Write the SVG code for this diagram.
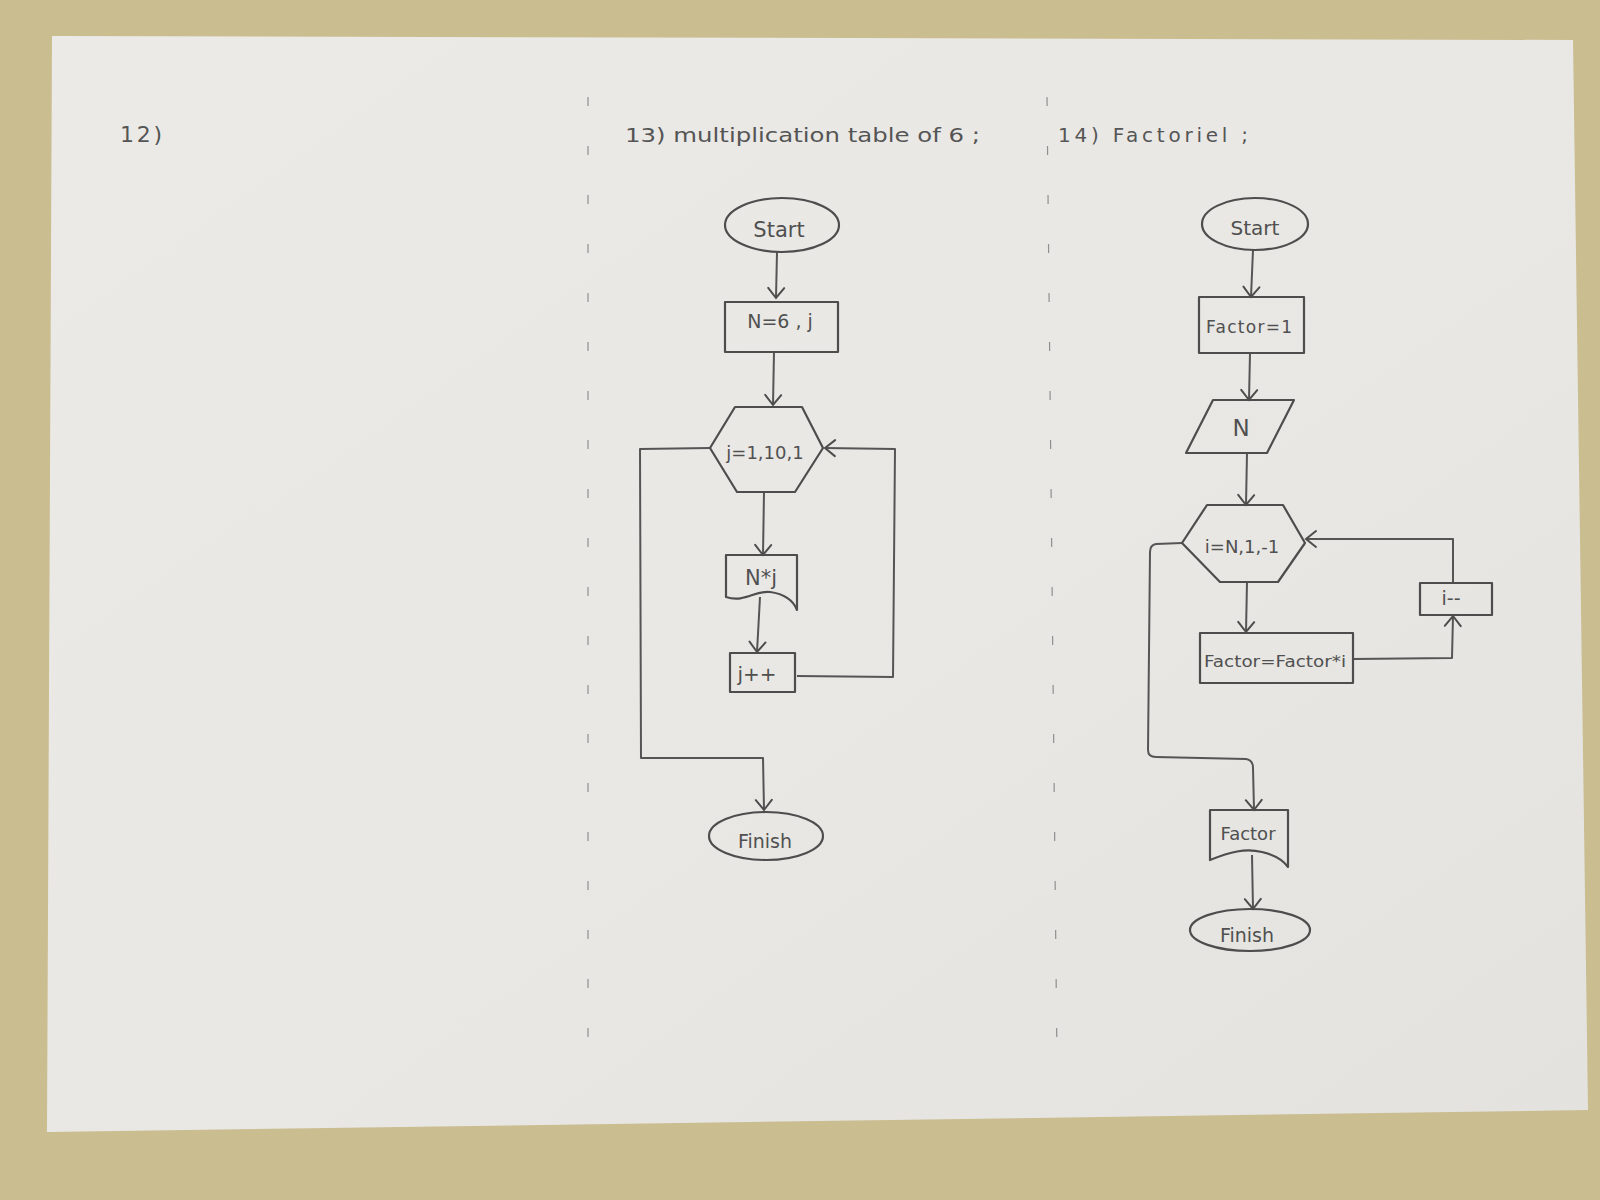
<svg xmlns="http://www.w3.org/2000/svg" width="1600" height="1200" viewBox="0 0 1600 1200">
<defs>
<linearGradient id="paper" x1="0" y1="0" x2="1" y2="1">
<stop offset="0" stop-color="#ebeae7"/>
<stop offset="0.6" stop-color="#e8e7e4"/>
<stop offset="1" stop-color="#e3e2de"/>
</linearGradient>
<marker id="arr" viewBox="-12 -10 14 20" markerWidth="14" markerHeight="20" refX="0" refY="0" orient="auto" markerUnits="userSpaceOnUse">
<path d="M-10,-8 L0,0 L-10,8" fill="none" stroke="#4d4d4d" stroke-width="2" stroke-linecap="round"/>
</marker>
</defs>
<style>
.shape{fill:none;stroke:#4d4d4d;stroke-width:2.2;stroke-linejoin:round}
.conn{fill:none;stroke:#555;stroke-width:2;stroke-linejoin:round}
.t{font-family:"DejaVu Sans","Liberation Sans",sans-serif;fill:#505050;text-anchor:middle}
.title{font-family:"DejaVu Sans","Liberation Sans",sans-serif;fill:#555}
.dash{stroke:#8f8f8f;stroke-width:1.2;stroke-dasharray:9 40;fill:none}
</style>
<rect x="0" y="0" width="1600" height="1200" fill="#cabd90"/>
<polygon points="52,36 1573,40 1588,1110 47,1132" fill="url(#paper)"/>

<g id="titles">
<text class="title" x="120" y="142" font-size="22" textLength="42">12)</text>
<text class="title" x="625" y="142" font-size="19" textLength="355" lengthAdjust="spacingAndGlyphs">13) multiplication table of 6 ;</text>
<text class="title" x="1058" y="142" font-size="20" textLength="190" lengthAdjust="spacing">14) Factoriel ;</text>
</g>

<g id="dividers">
<line class="dash" x1="588" y1="97" x2="588" y2="1052"/>
<line class="dash" x1="1047" y1="97" x2="1057" y2="1062"/>
</g>

<g id="connectors">
<path class="conn" d="M777,252 L776,298" marker-end="url(#arr)"/>
<path class="conn" d="M774,352 L773,405" marker-end="url(#arr)"/>
<path class="conn" d="M764,492 L763,555" marker-end="url(#arr)"/>
<path class="conn" d="M760,597 L757,652" marker-end="url(#arr)"/>
<path class="conn" d="M797,676 L893,677 L895,449 L825,448" marker-end="url(#arr)"/>
<path class="conn" d="M710,448 L640,449 L641,758 L763,758 L764,810" marker-end="url(#arr)"/>
<path class="conn" d="M1253,250 L1251,297" marker-end="url(#arr)"/>
<path class="conn" d="M1250,353 L1249,400" marker-end="url(#arr)"/>
<path class="conn" d="M1247,453 L1246,505" marker-end="url(#arr)"/>
<path class="conn" d="M1247,582 L1246,632" marker-end="url(#arr)"/>
<path class="conn" d="M1353,659 L1452,658 L1453,616" marker-end="url(#arr)"/>
<path class="conn" d="M1453,583 L1453,539 L1306,539" marker-end="url(#arr)"/>
<path class="conn" d="M1182,543 L1156,544 Q1150,545 1150,552 L1148,750 Q1148,757 1156,757 L1246,759 Q1253,760 1253,768 L1254,810" marker-end="url(#arr)"/>
<path class="conn" d="M1252,855 L1253,909" marker-end="url(#arr)"/>
</g>

<g id="start13">
<ellipse class="shape" cx="782" cy="225" rx="57" ry="27"/>
<text class="t" x="779" y="237" font-size="21">Start</text>
</g>
<g id="init13">
<rect class="shape" x="725" y="302" width="113" height="50"/>
<text class="t" x="780" y="328" font-size="19">N=6 , j</text>
</g>
<g id="loop13">
<polygon class="shape" points="735,407 802,407 823,448 795,492 737,492 710,448"/>
<text class="t" x="765" y="459" font-size="18">j=1,10,1</text>
</g>
<g id="print13">
<path class="shape" d="M726,555 L797,555 L797,610 C793,600 785,594 770,592 C755,590 745,603 726,597 Z"/>
<text class="t" x="761" y="585" font-size="21">N*j</text>
</g>
<g id="inc13">
<rect class="shape" x="730" y="653" width="65" height="39"/>
<text class="t" x="757" y="681" font-size="20">j++</text>
</g>
<g id="finish13">
<ellipse class="shape" cx="766" cy="836" rx="57" ry="24"/>
<text class="t" x="765" y="848" font-size="19">Finish</text>
</g>

<g id="start14">
<ellipse class="shape" cx="1255" cy="224" rx="53" ry="26"/>
<text class="t" x="1255" y="235" font-size="20">Start</text>
</g>
<g id="init14">
<rect class="shape" x="1199" y="297" width="105" height="56"/>
<text class="t" x="1249" y="333" font-size="17" textLength="86">Factor=1</text>
</g>
<g id="input14">
<polygon class="shape" points="1213,400 1294,400 1267,453 1186,453"/>
<text class="t" x="1241" y="436" font-size="23">N</text>
</g>
<g id="loop14">
<polygon class="shape" points="1207,505 1283,505 1305,543 1278,582 1220,582 1182,543"/>
<text class="t" x="1242" y="553" font-size="18">i=N,1,-1</text>
</g>
<g id="calc14">
<rect class="shape" x="1200" y="633" width="153" height="50"/>
<text class="t" x="1275" y="667" font-size="15" textLength="142" lengthAdjust="spacingAndGlyphs">Factor=Factor*i</text>
</g>
<g id="dec14">
<rect class="shape" x="1420" y="583" width="72" height="32"/>
<text class="t" x="1451" y="605" font-size="19">i--</text>
</g>
<g id="print14">
<path class="shape" d="M1210,810 L1288,810 L1288,867 C1283,860 1275,855 1262,852 C1245,848 1230,852 1210,860 Z"/>
<text class="t" x="1248" y="840" font-size="18">Factor</text>
</g>
<g id="finish14">
<ellipse class="shape" cx="1250" cy="930" rx="60" ry="21"/>
<text class="t" x="1247" y="942" font-size="19">Finish</text>
</g>
</svg>
